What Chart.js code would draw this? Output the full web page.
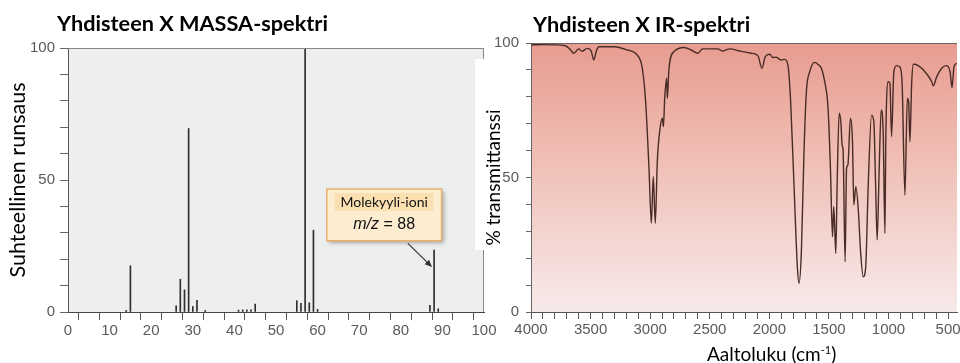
<!DOCTYPE html>
<html>
<head>
<meta charset="utf-8">
<script src="https://cdn.jsdelivr.net/npm/chart.js@4.4.1/dist/chart.umd.min.js"></script>
<style>
    html, body { margin: 0; padding: 0; background: #fff; }
    body { width: 960px; height: 363px; position: relative; overflow: hidden; font-family: Lato, 'Open Sans', sans-serif; }
    .box { position: absolute; top: 0; height: 363px; }
    #massBox { left: 0; width: 500px; }
    #irBox { left: 470px; width: 490px; }
    .title { position: absolute; font-weight: bold; font-size: 21.7px; color: #000; white-space: nowrap; line-height: normal; }
    #massTitle { left: 57px; top: 10px; }
    #irTitle { left: 533px; top: 11px; }
    #irXTitle { position: absolute; left: 707px; top: 342px; font-size: 19px; line-height: normal; white-space: nowrap; color: #000; }
    #irXTitle sup { font-size: 11px; vertical-align: 7px; line-height: 0; }
</style>
</head>
<body>
<div class="box" id="massBox"><canvas id="massChart"></canvas></div>
<div class="box" id="irBox"><canvas id="irChart"></canvas></div>
<div class="title" id="massTitle">Yhdisteen X MASSA-spektri</div>
<div class="title" id="irTitle">Yhdisteen X IR-spektri</div>
<div id="irXTitle">Aaltoluku (cm<sup>-1</sup>)</div>
<script>
// Massaspektri: m/z ja suhteellinen runsaus (%)
const massMz = [14, 15, 26, 27, 28, 29, 30, 31, 33, 41, 42, 43, 44, 45, 55, 56, 57, 58, 59, 60, 87, 88, 89];
const massAbundance = [0.6, 17.5, 2.3, 12.4, 8.4, 69.5, 2.1, 4.4, 0.6, 0.7, 0.8, 0.8, 0.8, 3.0, 4.3, 3.3, 100, 3.5, 31, 1.0, 2.5, 23.5, 1.2];
const massXLabels = [0, 10, 20, 30, 40, 50, 60, 70, 80, 90, 100];
const massYLabels = [0, 50, 100];

// IR-spektri: aaltoluku (cm-1) ja transmittanssi (%)
const irWavenumber = [
    4000, 3900, 3711, 3670, 3641, 3599, 3571, 3529, 3495, 3473, 3452, 3430, 3304, 3192, 3108, 3066,
    3038, 3010, 2990, 2974, 2957, 2940, 2917, 2898, 2889, 2878, 2862, 2856, 2842, 2800, 2713, 2656,
    2601, 2559, 2432, 2390, 2334, 2236, 2152, 2096, 2062, 2034, 1998, 1970, 1941, 1905, 1871, 1844,
    1821, 1793, 1764, 1751, 1731, 1709, 1689, 1661, 1620, 1590, 1563, 1535, 1507, 1487, 1470, 1459,
    1442, 1431, 1414, 1400, 1389, 1381, 1364, 1352, 1341, 1319, 1302, 1291, 1274, 1254, 1234, 1212,
    1192, 1170, 1142, 1123, 1108, 1095, 1078, 1061, 1044, 1030, 1022, 1002, 988, 974, 955, 932,
    904, 885, 862, 842, 831, 820, 806, 792, 750, 694, 637, 624, 595, 553, 517, 483,
    467, 450, 427
];
const irTransmittance = [
    99.3, 99.4, 99.0, 97.5, 96.2, 97.8, 96.9, 98.0, 97.0, 93.7, 97.0, 98.6, 98.6, 97.4, 95.5, 90.6,
    78.2, 53.5, 33.0, 50.3, 33.0, 55.9, 68.3, 72.0, 68.9, 79.4, 86.9, 79.4, 90.6, 96.8, 98.3, 97.4,
    96.2, 97.8, 97.8, 97.0, 97.8, 96.9, 96.2, 95.3, 90.6, 94.9, 95.8, 94.6, 94.7, 93.7, 93.9, 91.8,
    78.2, 47.2, 16.2, 10.7, 22.4, 59.6, 81.9, 89.3, 92.8, 92.0, 90.6, 85.6, 75.7, 53.4, 28.0, 39.2,
    21.8, 47.2, 73.9, 70.8, 62.1, 60.2, 18.7, 53.4, 54.6, 72.0, 63.3, 39.8, 46.6, 38.5, 22.4, 13.1,
    16.2, 47.2, 73.2, 70.8, 47.2, 26.8, 53.4, 75.1, 65.8, 29.2, 65.8, 85.6, 85.0, 65.2, 89.3, 91.6,
    91.1, 84.4, 43.5, 79.4, 78.2, 63.3, 84.4, 92.1, 91.6, 89.3, 85.6, 84.1, 87.5, 90.6, 91.6, 89.3,
    83.4, 91.2, 92.5
];
const irXLabels = [4000, 3500, 3000, 2500, 2000, 1500, 1000, 500];
const irYLabels = [0, 50, 100];

const tickFont = { family: "'Liberation Sans', Arial, sans-serif", size: 15 };
const tickColor = '#5a5a5a';

// fixed axis sizes so both plots land where the original ones are
const fixWidth = (w) => (s) => { s.width = w; s.paddingTop = 0; s.paddingBottom = 0; };
const fixHeight = (h) => (s) => { s.height = h; s.paddingLeft = 0; s.paddingRight = 0; };

const plotBackground = {
    id: 'plotBackground',
    beforeDraw(chart, args, opts) {
        const { ctx, chartArea: a } = chart;
        ctx.save();
        if (opts.blank) {
            ctx.fillStyle = '#fff';
            ctx.fillRect(opts.blank[0], opts.blank[1], opts.blank[2], opts.blank[3]);
        }
        if (opts.stops) {
            const g = ctx.createLinearGradient(0, a.top, 0, a.bottom);
            opts.stops.forEach(([o, c]) => g.addColorStop(o, c));
            ctx.fillStyle = g;
        } else {
            ctx.fillStyle = opts.color;
        }
        ctx.fillRect(a.left, a.top, a.width, a.height);
        ctx.restore();
    },
    afterDraw(chart, args, opts) {
        const { ctx, chartArea: a } = chart;
        ctx.save();
        ctx.strokeStyle = opts.frame;
        ctx.lineWidth = 1;
        ctx.beginPath();
        ctx.moveTo(a.left, a.top + 0.5);
        ctx.lineTo(a.right, a.top + 0.5);
        if (opts.rightEdge) {
            ctx.moveTo(a.right - 0.5, a.top);
            ctx.lineTo(a.right - 0.5, a.bottom);
        }
        ctx.stroke();
        ctx.restore();
    }
};

// "Molekyyli-ioni" laatikko ja nuoli piikkiin m/z = 88
const callout = {
    id: 'callout',
    afterDraw(chart) {
        const { ctx, scales: { x, y } } = chart;
        const x0 = x.getPixelForValue(62.2), x1 = x.getPixelForValue(89.8);
        const y0 = y.getPixelForValue(46.6), y1 = y.getPixelForValue(27);
        const cx = (x0 + x1) / 2;
        ctx.save();
        ctx.shadowColor = 'rgba(0,0,0,0.3)';
        ctx.shadowBlur = 4;
        ctx.shadowOffsetX = 2;
        ctx.shadowOffsetY = 2;
        ctx.fillStyle = '#fdedd0';
        ctx.fillRect(x0, y0, x1 - x0, y1 - y0);
        ctx.shadowColor = 'transparent';
        ctx.fillStyle = '#fae0b0';
        ctx.fillRect(x0 + 8, y0 + 4, x1 - x0 - 16, 18);
        ctx.strokeStyle = '#e8b06a';
        ctx.lineWidth = 1.5;
        ctx.strokeRect(x0, y0, x1 - x0, y1 - y0);

        ctx.fillStyle = '#111';
        ctx.textAlign = 'center';
        ctx.textBaseline = 'middle';
        ctx.font = '14px Lato, sans-serif';
        ctx.fillText('Molekyyli-ioni', cx, y0 + 14);
        ctx.font = "italic 16px 'Liberation Sans', Arial, sans-serif";
        const a = 'm/z', b = ' = 88';
        ctx.textAlign = 'left';
        const wa = ctx.measureText(a).width;
        ctx.font = "16px 'Liberation Sans', Arial, sans-serif";
        const wb = ctx.measureText(b).width;
        const sx = cx - (wa + wb) / 2;
        ctx.font = "italic 16px 'Liberation Sans', Arial, sans-serif";
        ctx.fillText(a, sx, y0 + 36);
        ctx.font = "16px 'Liberation Sans', Arial, sans-serif";
        ctx.fillText(b, sx + wa, y0 + 36);

        // nuoli
        const ax0 = x.getPixelForValue(81.7), ay0 = y.getPixelForValue(26);
        const ax1 = x.getPixelForValue(88) - 2, ay1 = y.getPixelForValue(17);
        const ang = Math.atan2(ay1 - ay0, ax1 - ax0);
        ctx.strokeStyle = '#333';
        ctx.fillStyle = '#333';
        ctx.lineWidth = 1.2;
        ctx.beginPath();
        ctx.moveTo(ax0, ay0);
        ctx.lineTo(ax1 - 5 * Math.cos(ang), ay1 - 5 * Math.sin(ang));
        ctx.stroke();
        ctx.beginPath();
        ctx.moveTo(ax1, ay1);
        ctx.lineTo(ax1 - 8 * Math.cos(ang - 0.4), ay1 - 8 * Math.sin(ang - 0.4));
        ctx.lineTo(ax1 - 8 * Math.cos(ang + 0.4), ay1 - 8 * Math.sin(ang + 0.4));
        ctx.closePath();
        ctx.fill();
        ctx.restore();
    }
};

new Chart(document.getElementById('massChart'), {
    type: 'bar',
    data: {
        datasets: [{
            data: massMz.map((m, i) => ({ x: m, y: massAbundance[i] })),
            backgroundColor: '#2e2e2e',
            barThickness: 1
        }]
    },
    options: {
        responsive: true,
        maintainAspectRatio: false,
        animation: false,
        layout: { padding: { left: 0, right: 16, top: 48, bottom: 0 } },
        plugins: {
            legend: { display: false },
            tooltip: { enabled: false },
            plotBackground: { color: '#edefee', frame: '#888', rightEdge: true }
        },
        scales: {
            x: {
                type: 'linear',
                offset: false,
                min: 0,
                max: 100,
                afterFit: fixHeight(51),
                ticks: {
                    stepSize: 5,
                    autoSkip: false,
                    maxRotation: 0,
                    padding: 2,
                    font: tickFont,
                    color: tickColor,
                    callback: (v) => massXLabels.includes(v) ? v : ''
                },
                grid: { drawOnChartArea: false, tickLength: 8, color: '#555' },
                border: { color: '#444' }
            },
            y: {
                min: 0,
                max: 100,
                afterFit: fixWidth(68),
                ticks: {
                    stepSize: 10,
                    padding: 5,
                    font: tickFont,
                    color: tickColor,
                    callback: (v) => massYLabels.includes(v) ? v : ''
                },
                grid: { drawOnChartArea: false, tickLength: 8, color: '#666' },
                border: { color: '#555' },
                title: {
                    display: true,
                    text: 'Suhteellinen runsaus',
                    color: '#000',
                    font: { family: 'Lato, sans-serif', size: 21.5 },
                    padding: { top: 5, bottom: 0 }
                }
            }
        }
    },
    plugins: [plotBackground, callout]
});

new Chart(document.getElementById('irChart'), {
    type: 'line',
    data: {
        datasets: [{
            data: irWavenumber.map((w, i) => ({ x: w, y: irTransmittance[i] })),
            borderColor: '#4a2c26',
            borderWidth: 1.4,
            pointRadius: 0,
            fill: false,
            cubicInterpolationMode: 'monotone'
        }]
    },
    options: {
        responsive: true,
        maintainAspectRatio: false,
        animation: false,
        layout: { padding: { left: 0, right: 3, top: 43, bottom: 0 } },
        plugins: {
            legend: { display: false },
            tooltip: { enabled: false },
            plotBackground: {
                stops: [[0, '#e89c90'], [0.45, '#f0c0b7'], [1, '#f7eaea']],
                frame: '#666',
                rightEdge: false,
                blank: [5, 59, 25, 191]
            }
        },
        scales: {
            x: {
                type: 'linear',
                reverse: true,
                min: 425,
                max: 4000,
                afterFit: fixHeight(51),
                afterBuildTicks: (s) => {
                    const t = [];
                    for (let v = irXLabels[0]; v >= irXLabels[irXLabels.length - 1]; v -= 100) t.push({ value: v });
                    s.ticks = t;
                },
                ticks: {
                    autoSkip: false,
                    maxRotation: 0,
                    padding: 2,
                    font: tickFont,
                    color: tickColor,
                    callback: (v) => irXLabels.includes(v) ? v : ''
                },
                grid: { drawOnChartArea: false, tickLength: 7, color: '#555' },
                border: { color: '#555' }
            },
            y: {
                min: 0,
                max: 100,
                afterFit: fixWidth(61),
                ticks: {
                    stepSize: 10,
                    padding: 7,
                    font: tickFont,
                    color: tickColor,
                    callback: (v) => irYLabels.includes(v) ? v : ''
                },
                grid: { drawOnChartArea: false, tickLength: 5, color: '#666' },
                border: { color: '#666' },
                title: {
                    display: true,
                    text: '% transmittanssi',
                    color: '#000',
                    font: { family: 'Lato, sans-serif', size: 19 },
                    padding: { top: 12, bottom: 0 }
                }
            }
        }
    },
    plugins: [plotBackground]
});
</script>
</body>
</html>
